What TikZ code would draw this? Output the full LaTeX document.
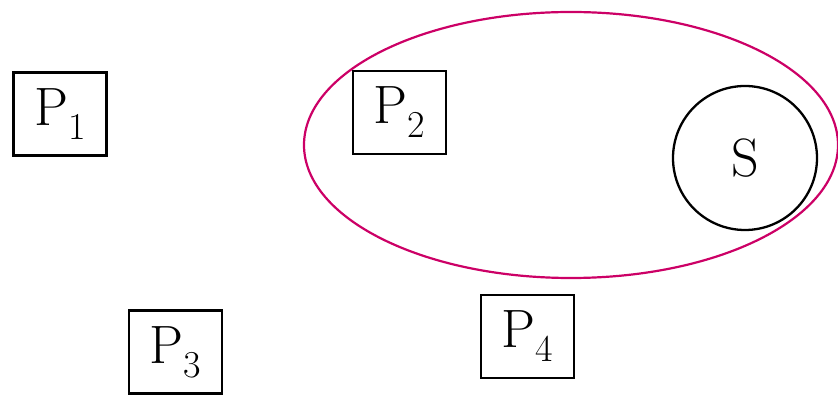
\documentclass[tikz,border=0pt]{standalone}
\usepackage{xcolor}
\usetikzlibrary{positioning, shapes.geometric}

\definecolor{ringred}{RGB}{204,0,102}
\newcommand{\proc}[1]{P\raisebox{-14pt}{\fontsize{38}{38}\selectfont #1}}

\tikzset{
    procbox/.style={draw, line width=2.3pt, minimum width=93pt, minimum height=83pt, inner sep=0pt, font=\fontsize{54}{64}\selectfont},
}

\begin{document}
\begin{tikzpicture}[x=1pt, y=-1pt]
    \useasboundingbox (0, 0) rectangle (838, 395);

    % region round P2 and S
    \node[draw=ringred, line width=2.2pt, ellipse, minimum width=534pt, minimum height=266pt, inner sep=0pt] (ring) at (571, 145) {};

    % processes
    \node[procbox] (p1) at (60, 114) {\proc{1}};
    \node[procbox] (p2) at (399.5, 112.5) {\proc{2}};
    \node[procbox] (p3) at (175.5, 352) {\proc{3}};
    \node[procbox] (p4) at (527.5, 336.5) {\proc{4}};

    % server
    \node[draw, circle, line width=2.3pt, minimum size=144pt, inner sep=0pt, font=\fontsize{54}{64}\selectfont] (s) at (745, 158) {S};

\end{tikzpicture}
\end{document}
